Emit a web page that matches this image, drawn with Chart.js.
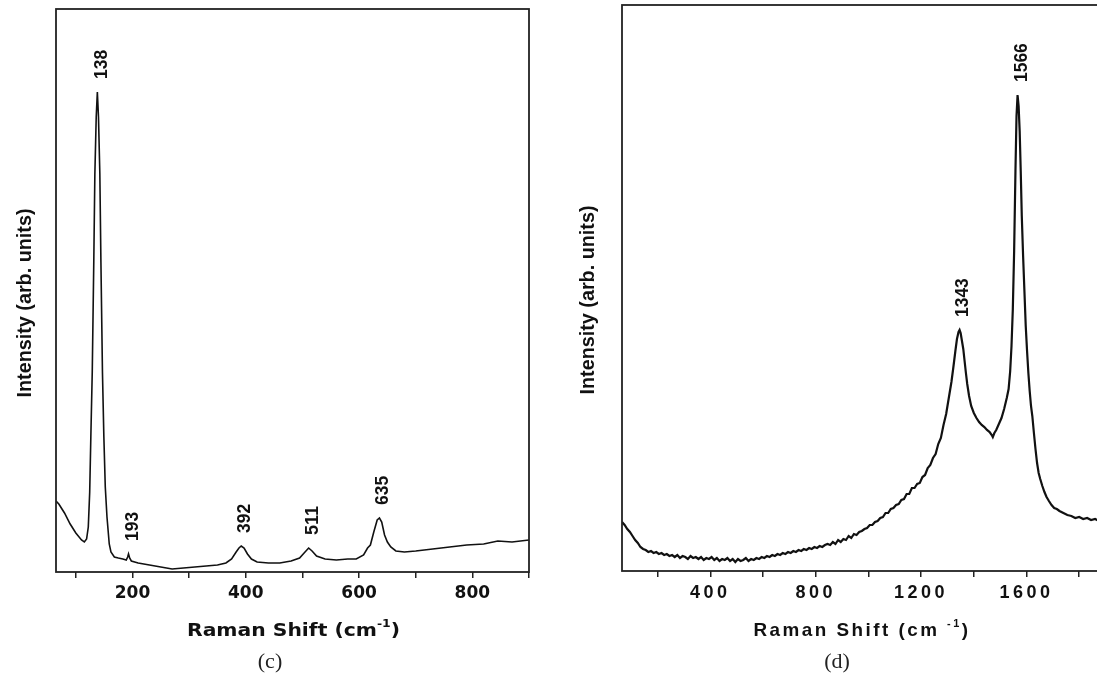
<!DOCTYPE html>
<html>
<head>
<meta charset="utf-8">
<script src="https://cdn.jsdelivr.net/npm/chart.js@4.4.1/dist/chart.umd.min.js"></script>
<style>
html, body { margin: 0; padding: 0; background: #fff; overflow: hidden; width: 1097px; height: 682px; }
#left { position: absolute; left: 0; top: 0; }
#right { position: absolute; left: 560px; top: 0; }
</style>
</head>
<body>
<canvas id="left" width="548" height="682"></canvas>
<canvas id="right" width="545" height="682"></canvas>
<script>
// (c) spectrum
const shiftC = [65,70,80,90,100,110,115,119,122,124.5,126.5,129,131.7,133.6,136,138,140,142.4,144.3,147,
  149.5,152,155,159,162,168,175,183,189,191.5,193,195,198,210,230,250,270,290,310,330,
  350,365,375,383,388,392,397,403,410,420,440,460,480,495,503,511,517,525,540,560,
  580,595,608,615,620,626,632,636,640,645,650,656,665,680,700,730,760,790,820,845,870,900];
const intensityC = [71,68,59,48,39,32,30,33,45,80,135,200,310,398,455,480,455,398,310,200,
  135,85,55,28,20,15,14,13,12,15,18,14,11,9,7,5,3,4,5,6,
  7,9,13,20,24,26,24,18,13,10,9,9,11,14,19,24,21,16,13,12,
  13,13,17,24,27,40,52,54,50,37,30,25,21,20,21,23,25,27,28,31,30,32];
const peaksC = [138, 193, 392, 511, 635];
const ticksC = [100, 200, 300, 400, 500, 600, 700, 800, 900];
const tickLabelsC = [200, 400, 600, 800];

// (d) spectrum
const shiftD = [65,75,85,95,105,115,125,135,145,155,165,175,185,195,205,215,225,235,245,255,
  265,275,285,295,305,315,325,335,345,355,365,375,385,395,405,415,425,435,445,455,
  465,475,485,495,505,515,525,535,545,555,565,575,585,595,605,615,625,635,645,655,
  665,675,685,695,705,715,725,735,745,755,765,775,785,795,805,815,825,835,845,855,
  865,875,885,895,905,915,925,935,945,955,965,975,985,995,1005,1015,1025,1035,1045,1055,
  1065,1075,1085,1095,1105,1115,1125,1135,1145,1155,1165,1175,1185,1195,1205,1215,1225,1235,1245,1255,
  1265,1275,1285,1295,1305,1315,1322,1330,1336,1342,1346,1350,1355,1360,1365,1370,
  1375,1382,1390,1400,1410,1420,1430,1440,1450,1460,1468,1472,1478,1485,1495,1505,1515,1525,1532,1538,
  1543,1548,1553,1558,1562,1566,1570,1574,1578,1582,1587,1592,1597,1602,1607,1612,1617,1622,1628,1634,
  1640,1646,1652,1660,1668,1676,1685,1695,1705,1715,1725,1740,1755,1770,1785,1800,1815,1830,1845,1860,1875];
const intensityD = [49,46,42,39,35,31,28,24,22,21,19,20,18,19,17,18,16,17,15,16,
  14,16,13,15,14,12,15,13,14,12,14,11,13,12,14,11,13,10,12,11,
  13,10,12,9,12,10,11,13,10,12,11,13,12,14,13,15,14,16,15,17,
  16,18,17,19,18,20,19,21,20,22,21,23,22,24,23,25,24,26,27,26,
  29,27,31,29,32,31,35,33,37,36,39,40,42,43,46,46,49,50,53,54,
  58,58,62,63,66,67,71,72,77,77,83,83,87,88,94,96,103,106,113,117,
  127,133,146,157,173,189,203,220,232,239,241,238,230,222,210,198,
  187,175,165,158,153,149,146,144,141,139,136,134,138,141,147,153,162,173,182,200,
  225,262,320,400,455,476,465,440,400,355,315,280,245,220,198,180,165,155,138,122,
  108,98,92,85,79,74,70,66,63,62,60,58,56,55,53,54,52,53,51,52,50];
const peaksD = [1343, 1566];
const ticksD = [200, 400, 600, 800, 1000, 1200, 1400, 1600, 1800];
const tickLabelsD = [400, 800, 1200, 1600];

function peakHeight(xs, ys, x0) {
  let best = 0;
  xs.forEach((x, i) => { if (Math.abs(x - x0) <= 8 && ys[i] > best) best = ys[i]; });
  return best;
}

// draws a run of text parts, centred (or left aligned), optionally rotated and fitted to a width
function drawText(ctx, parts, x, y, o) {
  ctx.save();
  ctx.translate(x, y);
  if (o.rotate) ctx.rotate(-Math.PI / 2);
  ctx.letterSpacing = (o.spacing || 0) + 'px';
  let total = 0;
  const widths = parts.map(p => {
    ctx.font = (o.weight || '') + ' ' + (p.size || o.size) + 'px ' + o.family;
    const w = ctx.measureText(p.t).width;
    total += w;
    return w;
  });
  const sx = o.width ? o.width / total : 1;
  ctx.scale(sx, 1);
  let cx = o.align === 'left' ? 0 : -total / 2;
  ctx.textAlign = 'left';
  ctx.textBaseline = 'middle';
  ctx.fillStyle = o.color || '#111';
  parts.forEach((p, i) => {
    ctx.font = (o.weight || '') + ' ' + (p.size || o.size) + 'px ' + o.family;
    ctx.fillText(p.t, cx, p.dy || 0);
    cx += widths[i];
  });
  ctx.restore();
}

function decor(cfg) {
  return {
    id: 'decor',
    beforeDraw(chart) {
      chart.ctx.letterSpacing = (cfg.tickSpacing || 0) + 'px';
    },
    afterDatasetsDraw(chart) {
      const { ctx, chartArea: a } = chart;
      ctx.save();
      ctx.strokeStyle = '#222';
      ctx.lineWidth = 1.8;
      ctx.strokeRect(a.left, a.top, a.right - a.left, a.bottom - a.top);
      ctx.restore();
    },
    afterDraw(chart) {
      const ctx = chart.ctx;
      const xs = chart.scales.x, ys = chart.scales.y;
      cfg.peaks.forEach(p => {
        const px = xs.getPixelForValue(p) + 4;
        const py = ys.getPixelForValue(peakHeight(cfg.xs, cfg.ys, p)) - 13;
        const s = String(p);
        drawText(ctx, [{ t: s }], px, py, { rotate: true, align: 'left', weight: 'bold', size: 19,
          family: '"Liberation Sans", Arial, sans-serif', width: s.length * 9.7 });
      });
      drawText(ctx, [{ t: 'Intensity (arb. units)' }], cfg.yTitle[0], cfg.yTitle[1],
        { rotate: true, weight: 'bold', size: 20, family: '"Liberation Sans", Arial, sans-serif', width: 189 });
      drawText(ctx, cfg.xTitleParts, cfg.xTitle[0], cfg.xTitle[1],
        { weight: 'bold', size: cfg.xTitleSize, family: cfg.xTitleFamily, spacing: cfg.xTitleSpacing, width: cfg.xTitleWidth });
      drawText(ctx, [{ t: cfg.caption }], cfg.captionAt[0], cfg.captionAt[1],
        { size: 22, family: '"Liberation Serif", "DejaVu Serif", serif', color: '#222' });
    }
  };
}

function makeChart(id, cfg) {
  return new Chart(document.getElementById(id), {
    type: 'line',
    data: {
      datasets: [{
        data: cfg.xs.map((x, i) => ({ x: x, y: cfg.ys[i] })),
        borderColor: '#111',
        borderWidth: cfg.lineWidth,
        pointRadius: 0,
        tension: 0,
        fill: false
      }]
    },
    options: {
      responsive: false,
      animation: false,
      events: [],
      layout: { padding: cfg.pad },
      plugins: { legend: { display: false }, tooltip: { enabled: false } },
      scales: {
        x: {
          type: 'linear',
          min: cfg.min,
          max: cfg.max,
          afterFit: s => { s.height = cfg.axisHeight; },
          afterBuildTicks: s => { s.ticks = cfg.ticks.map(v => ({ value: v })); },
          border: { display: false },
          grid: { drawOnChartArea: false, drawTicks: true, tickLength: 6, color: '#222', lineWidth: 1.5 },
          ticks: {
            autoSkip: false, maxRotation: 0, minRotation: 0, padding: 5, color: '#111',
            font: cfg.tickFont,
            callback: v => cfg.tickLabels.includes(v) ? String(v) : ''
          }
        },
        y: { display: false, min: 0, max: cfg.ymax }
      }
    },
    plugins: [decor(cfg)]
  });
}

makeChart('left', {
  xs: shiftC, ys: intensityC, peaks: peaksC, ticks: ticksC, tickLabels: tickLabelsC,
  min: 65, max: 900, ymax: 563, lineWidth: 1.6, axisHeight: 110,
  pad: { left: 56, right: 19, top: 9, bottom: 0 },
  tickFont: { family: '"DejaVu Sans", sans-serif', weight: 'bold', size: 17 },
  yTitle: [25, 303],
  xTitleParts: [{ t: 'Raman Shift (cm' }, { t: '-1', size: 11, dy: -7 }, { t: ')' }],
  xTitle: [293.5, 631], xTitleWidth: 213, xTitleSize: 18, xTitleSpacing: 0,
  xTitleFamily: '"DejaVu Sans", sans-serif',
  caption: '(c)', captionAt: [270, 662]
});

makeChart('right', {
  xs: shiftD, ys: intensityD, peaks: peaksD, ticks: ticksD, tickLabels: tickLabelsD,
  min: 65, max: 1875, ymax: 566, lineWidth: 2.2, axisHeight: 111, tickSpacing: 3.5,
  pad: { left: 62, right: 6, top: 5, bottom: 0 },
  tickFont: { family: '"Liberation Sans", Arial, sans-serif', weight: 'bold', size: 18 },
  yTitle: [28.5, 300],
  xTitleParts: [{ t: 'Raman Shift (cm ' }, { t: '-1', size: 11, dy: -7 }, { t: ')' }],
  xTitle: [302, 631], xTitleWidth: 217, xTitleSize: 19, xTitleSpacing: 2.5,
  xTitleFamily: '"Liberation Sans", Arial, sans-serif',
  caption: '(d)', captionAt: [277, 662]
});
</script>
</body>
</html>
